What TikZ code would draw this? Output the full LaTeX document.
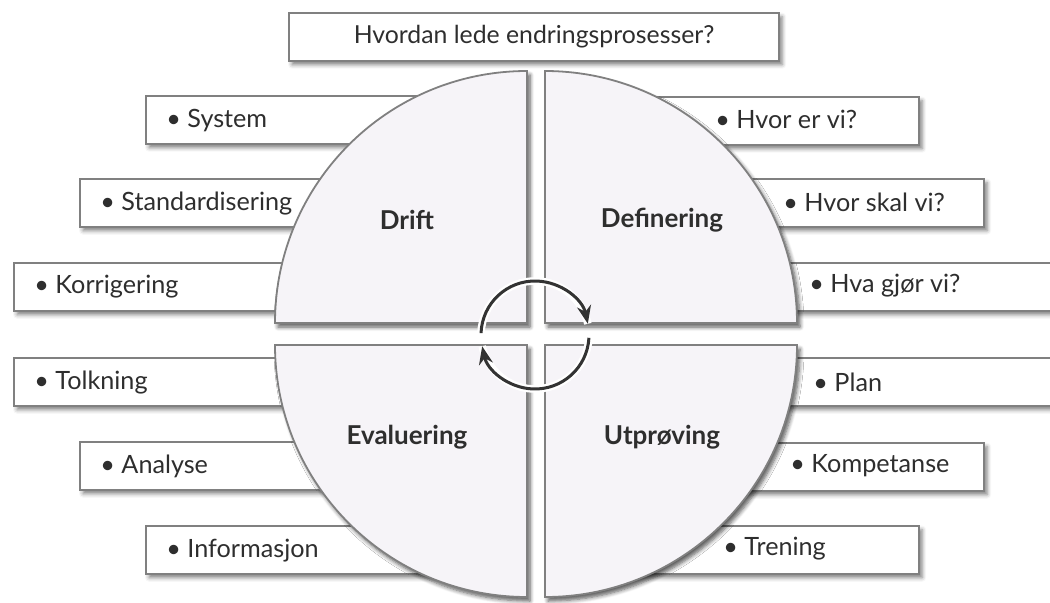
\documentclass[tikz,border=0pt]{standalone}
\usepackage{fontspec}
\setmainfont{Lato}
\usepackage{tikz}
\usetikzlibrary{ % tikz packages
    positioning,
    arrows.meta,shadows.blur
}
\definecolor{quadfill}{HTML}{F6F4F8}
\definecolor{edgegray}{HTML}{808080}
\definecolor{inkgray}{HTML}{2E2E2E}
\tikzset{box/.style={
    draw=edgegray, line width=1.1pt, fill=white,
    minimum height=24pt, inner sep=0pt, anchor=north west,
    blur shadow={shadow xshift=1.5pt, shadow yshift=-1.8pt,
        shadow blur steps=4, shadow opacity=50}
}}
\tikzset{item/.style={
    inner sep=0pt, anchor=west, text=inkgray,
    font=\fontsize{12.6}{15}\selectfont
}}
\tikzset{quad/.style={
    draw=edgegray, line width=0.9pt, fill=quadfill,
    blur shadow={shadow xshift=1.5pt, shadow yshift=-2pt,
        shadow blur steps=6, shadow opacity=65}
}}
\tikzset{phase/.style={
    text=inkgray, font=\bfseries\fontsize{13}{15}\selectfont
}}
\tikzset{turn/.style={
    draw=black!80, line width=1.5pt, -{Stealth[length=9pt,width=7pt]},
    preaction={draw=white, line width=3.8pt, -}
}}
\tikzset{>=Stealth}
\newcommand{\pt}{\textbullet\ }

\begin{document}
\begin{tikzpicture}[x=0.5pt,y=0.5pt]
        \useasboundingbox (0,0) rectangle (1050,602);
        \clip (0,0) rectangle (1050,602);

        % title
        \node[box, minimum width=245pt, font=\fontsize{12.4}{15}\selectfont, text=inkgray] (title) at (288,590) {Hvordan lede endringsprosesser?};

        % left boxes
        \node[box, minimum width=182.5pt] (sysbox) at (145,507) {};
        \node[box, minimum width=215.5pt] (stdbox) at (79,424) {};
        \node[box, minimum width=248.5pt] (korbox) at (13,340) {};
        \node[box, minimum width=248.5pt] (tolbox) at (13,245) {};
        \node[box, minimum width=215.5pt] (anabox) at (79,161) {};
        \node[box, minimum width=182.5pt] (infbox) at (145,77) {};

        % right boxes
        \node[box, minimum width=179pt] (hevbox) at (560,506) {};
        \node[box, minimum width=211.5pt] (hsvbox) at (560,424) {};
        \node[box, minimum width=260pt] (hgvbox) at (560,340) {};
        \node[box, minimum width=260pt] (plabox) at (560,245) {};
        \node[box, minimum width=211.5pt] (kombox) at (560,160) {};
        \node[box, minimum width=179pt] (trebox) at (560,77) {};

        \node[item, right=10.5pt of sysbox.west] (sys) {\pt System};
        \node[item, right=10.5pt of stdbox.west] (std) {\pt Standardisering};
        \node[item, right=10.5pt of korbox.west] (kor) {\pt Korrigering};
        \node[item, right=10.5pt of tolbox.west] (tol) {\pt Tolkning};
        \node[item, right=10.5pt of anabox.west] (ana) {\pt Analyse};
        \node[item, right=10.5pt of infbox.west] (inf) {\pt Informasjon};

        \node[item] (hev) at (715,483) {\pt Hvor er vi?};
        \node[item] (hsv) at (783,400) {\pt Hvor skal vi?};
        \node[item] (hgv) at (809,316) {\pt Hva gjør vi?};
        \node[item] (pla) at (813,220) {\pt Plan};
        \node[item] (kom) at (790,136) {\pt Kompetanse};
        \node[item] (tre) at (723,53) {\pt Trening};

        % the four quarters
        \path[quad] (527,279) -- ++(0,252) arc[start angle=90, end angle=180, radius=252] -- cycle;
        \path[quad] (545,279) -- ++(252,0) arc[start angle=0, end angle=90, radius=252] -- cycle;
        \path[quad] (527,257) -- ++(-252,0) arc[start angle=180, end angle=270, radius=252] -- cycle;
        \path[quad] (545,257) -- ++(0,-252) arc[start angle=270, end angle=360, radius=252] -- cycle;

        \node[phase] (drift) at (407,382) {Drift};
        \node[phase] (def) at (662,382) {Definering};
        \node[phase] (eval) at (407,165) {Evaluering};
        \node[phase] (utp) at (662,165) {Utprøving};

        % cycle
        \coordinate (hub) at (535,267);
        \draw[turn] ([shift={(178:54)}]hub) arc[start angle=178, end angle=12, radius=54];
        \draw[turn] ([shift={(-3:54)}]hub) arc[start angle=-3, end angle=-168, radius=54];
    \end{tikzpicture}
\end{document}
